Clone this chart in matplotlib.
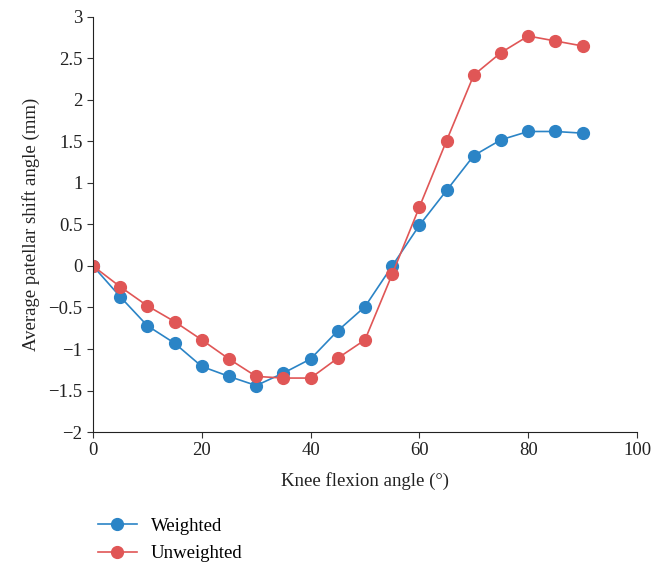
import matplotlib.pyplot as plt
from matplotlib.ticker import FuncFormatter

# knee flexion angles and the two series
angles = [0, 5, 10, 15, 20, 25, 30, 35, 40, 45, 50, 55, 60, 65, 70, 75, 80, 85, 90]
weighted = [0, -0.37, -0.72, -0.93, -1.21, -1.33, -1.44, -1.29, -1.12, -0.78,
            -0.49, 0.0, 0.49, 0.91, 1.33, 1.52, 1.62, 1.62, 1.60]
unweighted = [0, -0.25, -0.48, -0.67, -0.89, -1.12, -1.33, -1.35, -1.35, -1.11,
              -0.89, -0.10, 0.71, 1.51, 2.30, 2.57, 2.77, 2.71, 2.65]

x_ticks = [0, 20, 40, 60, 80, 100]
y_ticks = [-2, -1.5, -1, -0.5, 0, 0.5, 1, 1.5, 2, 2.5, 3]

plt.rcParams['font.family'] = ['Liberation Serif', 'DejaVu Serif']
plt.rcParams['font.size'] = 13.5

fig = plt.figure(figsize=(6.67, 5.64), dpi=100)
ax = fig.add_axes([0.1394, 0.234, 0.8156, 0.736])

blue = '#2B84C6'
red = '#E05656'
ax.plot(angles, weighted, color=blue, marker='o', markersize=8.5, linewidth=1.2, label='Weighted')
ax.plot(angles, unweighted, color=red, marker='o', markersize=8.5, linewidth=1.2, label='Unweighted')

ax.set_xlim(0, 100)
ax.set_ylim(-2, 3)
ax.set_xticks(x_ticks)
ax.set_yticks(y_ticks)
ax.yaxis.set_major_formatter(FuncFormatter(lambda v, p: ('%g' % v).replace('-', '\u2212')))
ax.spines['top'].set_visible(False)
ax.spines['right'].set_visible(False)
ax.tick_params(direction='out', length=4, color='#333333', labelcolor='#222222')
ax.spines['left'].set_color('#222222')
ax.spines['bottom'].set_color('#222222')

ax.set_xlabel('Knee flexion angle (\u00b0)', color='#222222', labelpad=9)
ax.set_ylabel('Average patellar shift angle (mm)', color='#222222', labelpad=6)

fig.legend(loc='upper left', bbox_to_anchor=(0.135, 0.095), frameon=False,
           handlelength=2.1, handletextpad=0.75, labelspacing=0.55, borderaxespad=0)

fig.savefig('out.png', dpi=100)
